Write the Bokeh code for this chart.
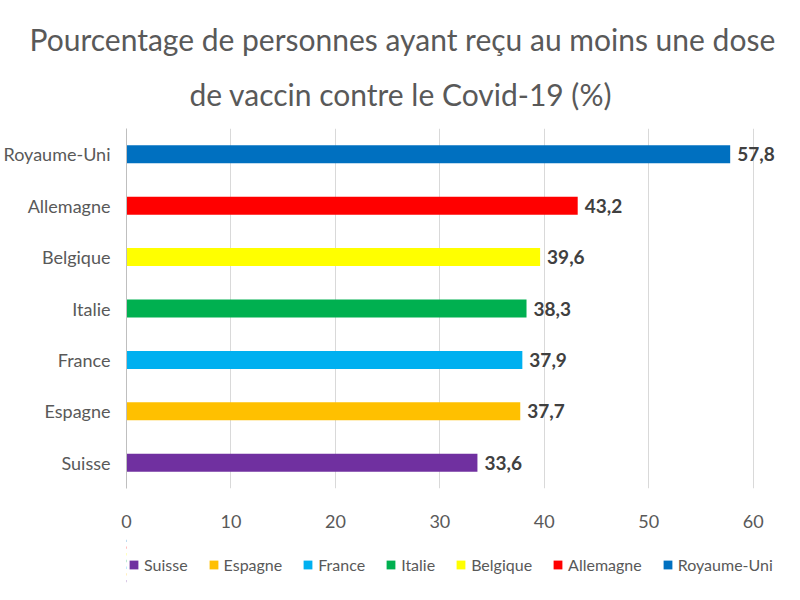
from bokeh.plotting import figure
from bokeh.layouts import column
from bokeh.models import (ColumnDataSource, FactorRange, Range1d, LabelSet, Title,
                          Legend, LegendItem)
from bokeh.core.properties import value
from bokeh.embed import file_html
from bokeh.resources import INLINE

# ---- data (bottom to top) ----
countries = ["Suisse", "Espagne", "France", "Italie", "Belgique", "Allemagne", "Royaume-Uni"]
values = [33.6, 37.7, 37.9, 38.3, 39.6, 43.2, 57.8]
colors = ["#7030A0", "#FFC000", "#00B0F0", "#00B050", "#FFFF00", "#FF0000", "#0070C0"]
x_ticks = [0, 10, 20, 30, 40, 50, 60]
title_lines = ["Pourcentage de personnes ayant reçu au moins une dose",
               "de vaccin contre le Covid-19 (%)"]

FONT = "Lato"
GREY = "#595959"

src = ColumnDataSource(dict(
    country=countries,
    val=values,
    color=colors,
    label=[f"{v:.1f}".replace(".", ",") for v in values],
))

# ---------------- main chart ----------------
p = figure(
    y_range=FactorRange(factors=countries),
    x_range=Range1d(x_ticks[0], 63),
    width=784, height=537,
    output_backend="svg", toolbar_location=None,
    min_border_left=10, min_border_right=0, min_border_top=128, min_border_bottom=49,
)
p.outline_line_color = None
p.background_fill_color = "white"
p.border_fill_color = "white"

p.hbar(y="country", right="val", left=0, height=0.35, color="color",
       line_color=None, source=src)

# x axis
p.xaxis.ticker = x_ticks
p.xaxis.axis_line_color = None
p.xaxis.major_tick_line_color = None
p.xaxis.minor_tick_line_color = None
p.xaxis.major_label_text_font = FONT
p.xaxis.major_label_text_font_size = "18px"
p.xaxis.major_label_text_color = GREY
p.xaxis.major_label_standoff = 20

# y axis
p.yaxis.major_label_text_font = FONT
p.yaxis.major_label_text_font_size = "18px"
p.yaxis.major_label_text_color = GREY
p.yaxis.major_tick_line_color = None
p.yaxis.minor_tick_line_color = None
p.yaxis.axis_line_color = "#BFBFBF"
p.yaxis.major_label_standoff = 10

p.xgrid.grid_line_color = "#D9D9D9"
p.ygrid.grid_line_color = None

# data labels
p.add_layout(LabelSet(x="val", y="country", text="label", source=src,
                      x_offset=7, text_baseline="middle", text_align="left",
                      text_font=value(FONT), text_font_style="bold",
                      text_font_size="19px", text_color="#404040"))

# title (two lines)
t2 = Title(text=title_lines[1], align="left", text_font=FONT, text_font_size="30px",
           text_font_style="normal", text_color=GREY, standoff=34, offset=63)
t1 = Title(text=title_lines[0], align="left", text_font=FONT, text_font_size="30px",
           text_font_style="normal", text_color=GREY, standoff=0, offset=-97)
p.add_layout(t2, "above")
p.add_layout(t1, "above")

# ---------------- legend strip ----------------
lg = figure(
    y_range=FactorRange(factors=countries),
    x_range=Range1d(1000, 1001),
    width=784, height=47,
    output_backend="svg", toolbar_location=None,
    x_axis_location=None, y_axis_location=None,
    min_border=0,
)
lg.outline_line_color = None
lg.grid.visible = False
lg_bars = lg.hbar(y="country", right="val", left=0, height=0.35, color="color",
                  line_color=None, source=src)

items = [LegendItem(label=c, renderers=[lg_bars], index=i) for i, c in enumerate(countries)]
leg = Legend(items=items, orientation="horizontal", location=(2, 10),
             glyph_width=11, glyph_height=11, label_standoff=5, spacing=20,
             padding=0, margin=0, border_line_color=None, background_fill_alpha=0,
             label_text_font=FONT, label_text_font_size="16px",
             label_text_color=GREY, label_height=20)
lg.add_layout(leg)

layout = column(p, lg, spacing=0)
open("out.html", "w").write(file_html(layout, INLINE))
